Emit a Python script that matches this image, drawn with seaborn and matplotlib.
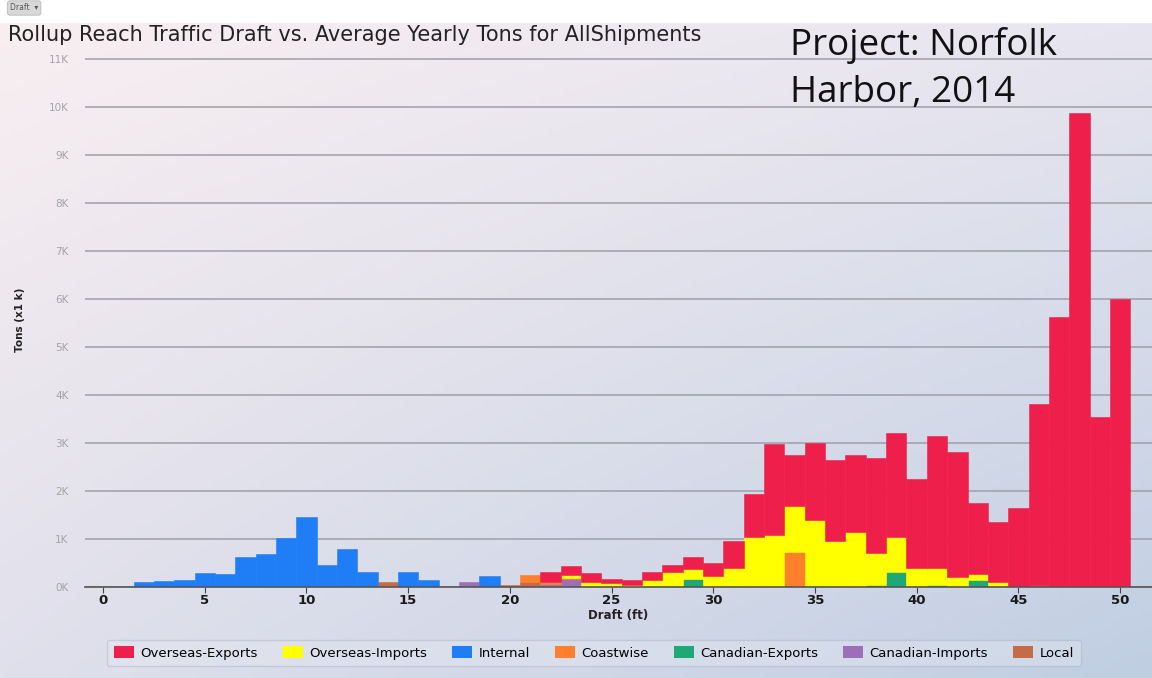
import matplotlib.pyplot as plt
import numpy as np
import pandas as pd
import seaborn as sns

# draft in ft, tons in units of 1k tons
drafts = list(range(0, 51))
categories = ["Overseas-Exports", "Overseas-Imports", "Internal", "Coastwise",
              "Canadian-Exports", "Canadian-Imports", "Local"]
colors = ["#ef1f4b", "#ffff00", "#1f7ef5", "#ff7f2a", "#1fa877", "#9d6fb8", "#c46c48"]

overseas_exports = [0, 0, 0, 0, 0, 0, 0, 0, 0, 0,
                    0, 0, 0, 0, 0, 0, 0, 0, 0, 0,
                    0, 0, 210, 200, 190, 90, 110, 170, 160, 250,
                    280, 560, 890, 1890, 1050, 1590, 1700, 1610, 1990, 2170,
                    1860, 2740, 2610, 1480, 1250, 1650, 3775, 5620, 9860, 3530, 5990]
overseas_imports = [0, 0, 0, 0, 0, 0, 0, 0, 0, 0,
                    0, 0, 0, 0, 0, 0, 0, 0, 0, 0,
                    0, 0, 0, 60, 100, 80, 40, 130, 280, 190,
                    220, 400, 1040, 1080, 960, 1380, 950, 1130, 660, 730,
                    380, 360, 200, 110, 100, 0, 0, 0, 0, 0, 0]
internal = [0, 0, 100, 110, 150, 290, 260, 625, 675, 1020,
            1460, 450, 780, 300, 0, 300, 140, 0, 0, 230,
            0, 0, 0, 0, 0, 0, 0, 0, 0, 0,
            0, 0, 0, 0, 0, 0, 0, 0, 0, 0,
            0, 0, 0, 0, 0, 0, 0, 0, 0, 0, 0]
coastwise = [0, 0, 0, 0, 0, 0, 0, 0, 0, 0,
             0, 0, 0, 0, 0, 0, 0, 0, 0, 0,
             0, 150, 50, 20, 0, 0, 0, 0, 0, 0,
             0, 0, 0, 0, 730, 0, 0, 0, 0, 0,
             0, 0, 0, 0, 0, 0, 0, 0, 0, 0, 0]
canadian_exports = [0, 0, 0, 0, 0, 0, 0, 0, 0, 0,
                    0, 0, 0, 0, 0, 0, 0, 0, 0, 0,
                    0, 0, 0, 0, 0, 0, 0, 0, 20, 170,
                    0, 0, 0, 0, 0, 20, 0, 0, 40, 310,
                    0, 40, 0, 150, 0, 0, 0, 0, 0, 0, 0]
canadian_imports = [0, 0, 0, 0, 0, 0, 0, 0, 0, 0,
                    0, 0, 0, 0, 0, 0, 0, 0, 90, 0,
                    0, 0, 20, 160, 0, 0, 0, 0, 0, 0,
                    0, 0, 0, 0, 0, 0, 0, 0, 0, 0,
                    0, 0, 0, 0, 0, 0, 0, 0, 0, 0, 0]
local = [0, 0, 0, 0, 0, 0, 0, 0, 0, 0,
         0, 0, 0, 0, 100, 0, 0, 0, 0, 0,
         30, 90, 30, 0, 0, 0, 0, 0, 0, 0,
         0, 0, 0, 0, 0, 0, 0, 0, 0, 0,
         0, 0, 0, 0, 0, 0, 35, 0, 0, 0, 0]

yticks = list(range(0, 11001, 1000))
ytick_labels = [f"{t // 1000}K" for t in yticks]
xticks = list(range(0, 51, 5))

df = pd.DataFrame({
    "Draft": drafts,
    "Overseas-Exports": overseas_exports,
    "Overseas-Imports": overseas_imports,
    "Internal": internal,
    "Coastwise": coastwise,
    "Canadian-Exports": canadian_exports,
    "Canadian-Imports": canadian_imports,
    "Local": local,
}).melt(id_vars="Draft", var_name="Type", value_name="Tons")

W, H = 1152, 678
fig = plt.figure(figsize=(W / 100, H / 100), dpi=100)

# soft pink -> blue background gradient
bg = fig.add_axes([0, 0, 1, 1], zorder=-10)
tl, tr = np.array([249, 239, 241]), np.array([232, 230, 240])
bl, br = np.array([224, 224, 236]), np.array([192, 206, 226])
u = np.linspace(0, 1, 200)[None, :, None]
v = np.linspace(0, 1, 120)[:, None, None]
grad = (1 - v) * ((1 - u) * tl + u * tr) + v * ((1 - u) * bl + u * br)
bg.imshow(grad / 255, aspect="auto", extent=[0, 1, 0, 1])
bg.add_patch(plt.Rectangle((0, 1 - 22 / H), 1, 22 / H, color="white"))
bg.set_xlim(0, 1)
bg.set_ylim(0, 1)
bg.axis("off")

x0, y0 = 85, 586.7
ax = fig.add_axes([x0 / W, (H - y0) / H, 1 - x0 / W, 11200 * 0.048 / H])
ax.patch.set_alpha(0)

sns.histplot(data=df, x="Draft", weights="Tons", hue="Type", hue_order=categories,
             multiple="stack", discrete=True, palette=colors, alpha=1,
             linewidth=0, ax=ax, zorder=3)
for p in ax.patches:
    if p.get_height() > 0:
        p.set_edgecolor(p.get_facecolor())
        p.set_linewidth(0.4)
    else:
        p.set_visible(False)

ax.set_xlim(-0.885, 51.57)
ax.set_ylim(0, 11200)
ax.set_yticks(yticks)
ax.set_yticklabels(ytick_labels)
ax.set_xticks(xticks)
ax.grid(axis="y", color="#9e9ea8", linewidth=1.1, zorder=0)
ax.grid(axis="x", visible=False)
for s in ["top", "right", "left"]:
    ax.spines[s].set_visible(False)
ax.spines["bottom"].set_color("#555555")
ax.spines["bottom"].set_linewidth(1.2)
ax.spines["bottom"].set_zorder(4)
ax.tick_params(axis="y", length=0, pad=12, labelsize=7.5, labelcolor="#a3a3a8")
ax.tick_params(axis="x", length=4, color="#444444", pad=1, labelsize=9.5, labelcolor="#1a1a1a")
for lab in ax.get_xticklabels():
    lab.set_fontweight("bold")
ax.set_xlabel("Draft (ft)", fontsize=8.5, fontweight="bold", color="#222222", labelpad=2)
ax.set_ylabel("")
fig.text(20 / W, 1 - 320 / H, "Tons (x1 k)", rotation=90, ha="center", va="center",
         fontsize=7.5, fontweight="bold", color="#222222")

sns.move_legend(ax, "center", bbox_to_anchor=(594 / W, 1 - 653 / H),
                bbox_transform=fig.transFigure, ncol=7, title=None, fontsize=9.5,
                frameon=True, fancybox=True, edgecolor="#a0a4ae", framealpha=0.35,
                facecolor="#e8ecf4", handlelength=1.5, handleheight=1.0,
                handletextpad=0.5, columnspacing=1.9, borderpad=0.5)

fig.text(8 / W, 1 - 35 / H, "Rollup Reach Traffic Draft vs. Average Yearly Tons for AllShipments",
         fontsize=15, color="#222222", va="center", ha="left")
fig.text(10 / W, 1 - 8 / H, "Draft  \u25be", fontsize=5.5, color="#555555", va="center",
         bbox=dict(boxstyle="round,pad=0.35", fc="#d8d8d8", ec="#b8b8b8", lw=0.6))
fig.text(790 / W, 1 - 55 / H, "Project: Norfolk", fontsize=26.5,
         family="Open Sans", color="#111111", va="baseline", ha="left")
fig.text(790 / W, 1 - 102 / H, "Harbor, 2014", fontsize=26.5,
         family="Open Sans", color="#111111", va="baseline", ha="left")

fig.savefig("out.png", dpi=100)
